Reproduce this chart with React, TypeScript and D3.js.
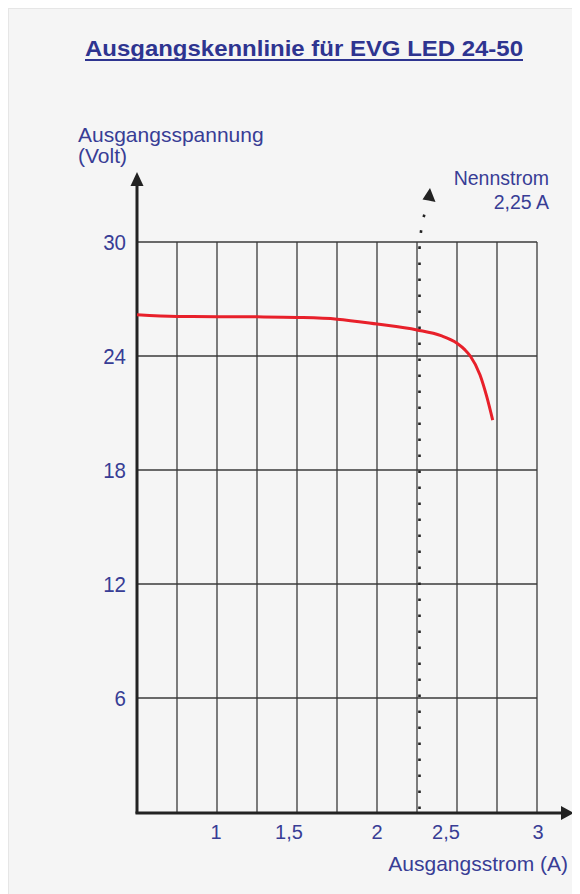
import React from "react";
import * as d3 from "d3";

const titleText = "Ausgangskennlinie für EVG LED 24-50";
const yAxisLabel = ["Ausgangsspannung", "(Volt)"];
const xAxisLabel = "Ausgangsstrom (A)";
const ratedLabel = ["Nennstrom", "2,25 A"];
const ratedCurrent = 2.25;

const xGridValues = [0.75, 1, 1.25, 1.5, 1.75, 2, 2.25, 2.5, 2.75, 3];
const yGridValues = [6, 12, 18, 24, 30];
const xTickValues = [1, 1.5, 2, 2.5, 3];
const xTickLabels = ["1", "1,5", "2", "2,5", "3"];
const yTickLabels = ["6", "12", "18", "24", "30"];

const currentA = [0.5, 0.75, 1.0, 1.25, 1.5, 1.75, 2.0, 2.25, 2.4, 2.5, 2.55, 2.583, 2.644, 2.686, 2.723];
const voltageV = [26.17, 26.08, 26.07, 26.06, 26.03, 25.94, 25.68, 25.37, 25.07, 24.67, 24.32, 24.0, 23.0, 21.86, 20.63];

const W = 572;
const H = 886;
const OX = 8; // svg placed at body margin
const OY = 8;

export default function App() {
  const x = d3.scaleLinear().domain([0.5, 3]).range([137 - OX, 537 - OX]);
  const y = d3.scaleLinear().domain([0, 30]).range([812 - OY, 242 - OY]);

  const line = d3
    .line<number>()
    .x((_, i) => x(currentA[i]))
    .y((d) => y(d))
    .curve(d3.curveMonotoneX);

  const textColor = "#383d95";
  const titleColor = "#2e3490";
  const gridColor = "#3a3a3a";
  const axisColor = "#222";
  const font = "Liberation Sans, Arial, Helvetica, sans-serif";
  const labelOffsets = [-1, -8, 0, -11, 1];

  const x0 = x(0.5);
  const xEnd = x(3);
  const y0 = y(0);
  const yTop = y(30);
  const rx = x(ratedCurrent) + 2.5;

  const stretch = (tx: number, ty: number, s: number) => `translate(${tx},${ty}) scale(1,${s})`;

  return (
    <svg width={W} height={H} style={{ display: "block" }} fontFamily={font}>
      <rect x={0.5} y={0.5} width={W + 10} height={H + 10} fill="#f5f5f5" stroke="#e6e6e6" />

      {/* title */}
      <text
        x={304 - OX}
        y={56 - OY}
        textAnchor="middle"
        fontSize={22}
        fontWeight="bold"
        fill={titleColor}
        textLength={438}
        lengthAdjust="spacingAndGlyphs"
      >
        {titleText}
      </text>
      <line x1={85 - OX} x2={523 - OX} y1={60 - OY} y2={60 - OY} stroke={titleColor} strokeWidth={2} />

      {/* grid */}
      {xGridValues.map((v) => (
        <line key={"vx" + v} x1={x(v)} x2={x(v)} y1={yTop} y2={y0} stroke={gridColor} strokeWidth={1.3} />
      ))}
      {yGridValues.map((v) => (
        <line key={"hy" + v} x1={x0} x2={xEnd} y1={y(v)} y2={y(v)} stroke={gridColor} strokeWidth={1.3} />
      ))}

      {/* rated current dotted line */}
      <path
        d={`M${rx},${y0 - 3} L${rx},${y(30) + 7} Q${rx + 1},${yTop - 18} ${rx + 8},${yTop - 38}`}
        fill="none"
        stroke="#222"
        strokeWidth={2.6}
        strokeDasharray="2.6 13.4"
      />
      <path
        d={`M${430 - OX},${188 - OY} L${422.5 - OX},${199.5 - OY} L${428.5 - OX},${200.5 - OY} L${435.5 - OX},${202 - OY} Z`}
        fill="#222"
      />

      {/* axes */}
      <line x1={x0} x2={x0} y1={y0 + 1.5} y2={185 - OY} stroke={axisColor} strokeWidth={3} />
      <path d={`M${x0},${172 - OY} L${x0 - 6.5},${186 - OY} L${x0 + 6.5},${186 - OY} Z`} fill={axisColor} />
      <line x1={x0 - 1.5} x2={562 - OX} y1={y0 + 1} y2={y0 + 1} stroke={axisColor} strokeWidth={3} />
      <path
        d={`M${574 - OX},${y0 + 1} L${561 - OX},${y0 - 6} L${561 - OX},${y0 + 8} Z`}
        fill={axisColor}
      />

      {/* curve */}
      <path d={line(voltageV) || ""} fill="none" stroke="#e8202a" strokeWidth={3} strokeLinecap="butt" />

      {/* y ticks */}
      {yGridValues.map((v, i) => (
        <text
          key={"yt" + v}
          transform={stretch(126 - OX, y(v) + 7.5, 1.07)}
          textAnchor="end"
          fontSize={20.5}
          fill={textColor}
        >
          {yTickLabels[i]}
        </text>
      ))}

      {/* x ticks */}
      {xTickValues.map((v, i) => (
        <text
          key={"xt" + v}
          x={x(v) + labelOffsets[i]}
          y={839 - OY}
          textAnchor="middle"
          fontSize={20}
          fill={textColor}
        >
          {xTickLabels[i]}
        </text>
      ))}

      {/* axis labels */}
      <text x={78 - OX} y={141.5 - OY} fontSize={21} fill={textColor}>
        {yAxisLabel[0]}
      </text>
      <text x={78 - OX} y={163 - OY} fontSize={21} fill={textColor}>
        {yAxisLabel[1]}
      </text>
      <text x={568 - OX} y={871 - OY} textAnchor="end" fontSize={21} fill={textColor}>
        {xAxisLabel}
      </text>

      {/* rated current label */}
      <text x={549 - OX} y={185 - OY} textAnchor="end" fontSize={19.5} fill={textColor}>
        {ratedLabel[0]}
      </text>
      <text x={549 - OX} y={209 - OY} textAnchor="end" fontSize={19.5} fill={textColor}>
        {ratedLabel[1]}
      </text>
    </svg>
  );
}
